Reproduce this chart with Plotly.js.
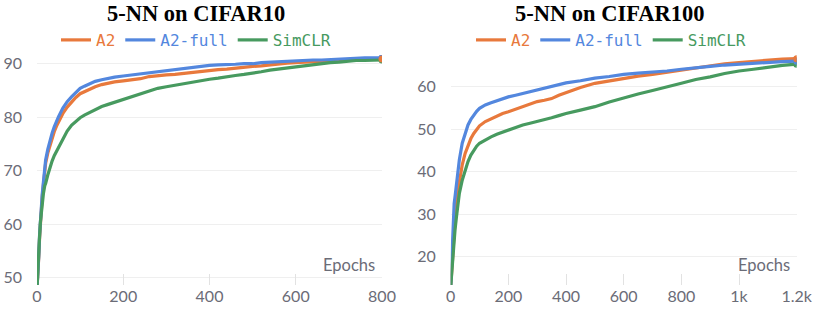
<!DOCTYPE html>
<html>
<head>
<meta charset="utf-8">
<script src="https://cdn.plot.ly/plotly-3.0.1.min.js"></script>
<style>html,body{margin:0;padding:0;background:#fff;}#chart{width:814px;height:310px;}</style>
</head>
<body>
<div id="chart"></div>
<script>
// ---- CIFAR10 (5-NN accuracy vs epoch) ----
const c10Epochs = [0,2,4,6,8,10,12,15,18,20,25,30,35,40,45,50,60,70,80,90,100,110,120,135,150,165,180,200,220,240,260,280,300,320,340,360,380,400,420,440,460,480,500,520,540,560,580,600,620,640,660,680,700,720,740,760,780,800];
const c10A2full = [48.0,50.5,54.0,58.0,61.0,63.5,65.5,68.0,70.5,72.0,74.0,75.7,77.0,78.2,79.2,80.1,81.7,82.9,83.8,84.7,85.4,85.8,86.2,86.7,87.0,87.3,87.5,87.7,87.9,88.1,88.4,88.6,88.8,88.9,89.1,89.3,89.5,89.7,89.8,89.8,89.9,90.0,90.0,90.2,90.3,90.4,90.4,90.5,90.6,90.7,90.7,90.8,90.9,91.0,91.0,91.1,91.1,91.1];
const c10A2 = [48.0,50.3,53.8,57.5,60.5,63.0,65.0,67.5,69.8,71.4,73.3,74.8,76.1,77.3,78.3,79.2,80.7,81.9,82.9,83.7,84.4,84.8,85.2,85.7,86.1,86.4,86.6,86.8,87.0,87.2,87.6,87.8,87.9,88.0,88.2,88.4,88.6,88.7,88.9,89.0,89.2,89.3,89.5,89.6,89.8,90.0,90.1,90.2,90.3,90.4,90.5,90.6,90.7,90.8,90.8,90.9,90.9,90.9];
const c10SimCLR = [48.0,50.5,54.0,57.8,60.5,62.5,64.2,65.8,67.2,67.6,69.2,70.6,71.8,72.8,73.6,74.3,75.9,77.4,78.5,79.3,79.9,80.4,80.8,81.4,82.0,82.4,82.8,83.4,83.9,84.4,85.0,85.4,85.7,86.0,86.3,86.6,86.9,87.1,87.3,87.6,87.8,88.0,88.2,88.5,88.8,89.0,89.2,89.4,89.6,89.9,90.1,90.2,90.3,90.5,90.6,90.6,90.7,90.7];

// ---- CIFAR100 ----
const c100Epochs = [0,2,4,6,8,10,12,15,20,25,30,40,50,60,70,80,90,100,120,140,160,180,200,225,250,275,300,325,350,375,400,450,500,550,600,650,700,750,800,850,900,950,1000,1050,1100,1150,1200];
const c100A2full = [13.0,17.0,21.5,25.5,28.5,31.0,32.5,34.1,37.3,40.2,42.8,46.7,49.0,51.0,52.3,53.3,54.2,54.9,55.7,56.2,56.7,57.2,57.6,58.0,58.4,58.8,59.2,59.6,60.0,60.5,60.9,61.4,62.0,62.4,62.9,63.2,63.4,63.7,64.1,64.5,64.8,65.1,65.3,65.6,65.8,65.9,66.0];
const c100A2 = [13.0,14.5,16.5,18.5,21.0,23.5,25.5,28.6,32.6,35.5,38.0,41.6,44.3,46.3,47.8,49.0,50.0,50.8,51.8,52.5,53.2,53.7,54.1,54.7,55.3,55.9,56.5,56.8,57.2,58.0,58.6,59.8,60.8,61.4,61.9,62.5,62.9,63.4,63.8,64.3,64.9,65.4,65.7,66.0,66.3,66.5,66.6];
const c100SimCLR = [13.0,15.0,17.5,20.0,22.0,23.5,24.8,26.3,29.4,32.3,34.9,38.0,40.4,42.4,43.9,45.1,46.0,46.7,47.5,48.2,48.8,49.3,49.8,50.4,51.0,51.4,51.8,52.3,52.7,53.2,53.7,54.5,55.3,56.4,57.4,58.3,59.1,59.9,60.8,61.7,62.3,63.1,63.7,64.1,64.6,65.0,65.3];

const c10Ticks = [0,200,400,600,800];
const c10TickText = ["0","200","400","600","800"];
const c100Ticks = [0,200,400,600,800,1000,1200];
const c100TickText = ["0","200","400","600","800","1k","1.2k"];
const c10YTicks = [50,60,70,80,90];
const c100YTicks = [20,30,40,50,60];
const seriesNames = ["A2","A2-full","SimCLR"];
const titles = ["5-NN on CIFAR10","5-NN on CIFAR100"];

const COLORS = {"A2":"#e8793c","A2-full":"#5387de","SimCLR":"#479a5f"};
const TICKFONT = {family:"Lato, 'Noto Sans', sans-serif", size:16, color:"#6b6c77"};

function lineTrace(x, y, name, xa, ya, legend){
  return {x:x, y:y, type:"scatter", mode:"lines", name:'<span style="color:'+COLORS[name]+'">'+name+'</span>',
    line:{color:COLORS[name], width:3.2}, xaxis:xa, yaxis:ya, legend:legend, hoverinfo:"x+y"};
}
function endDot(x, y, name, xa, ya){
  return {x:[x[x.length-1]], y:[y[y.length-1]], type:"scatter", mode:"markers",
    marker:{color:COLORS[name], size:7}, xaxis:xa, yaxis:ya, showlegend:false, hoverinfo:"skip"};
}

const traces = [
  lineTrace(c10Epochs, c10A2, "A2", "x", "y", "legend"),
  lineTrace(c10Epochs, c10A2full, "A2-full", "x", "y", "legend"),
  lineTrace(c10Epochs, c10SimCLR, "SimCLR", "x", "y", "legend"),
  lineTrace(c100Epochs, c100A2, "A2", "x2", "y2", "legend2"),
  lineTrace(c100Epochs, c100A2full, "A2-full", "x2", "y2", "legend2"),
  lineTrace(c100Epochs, c100SimCLR, "SimCLR", "x2", "y2", "legend2"),
  endDot(c10Epochs, c10SimCLR, "SimCLR", "x", "y"),
  endDot(c10Epochs, c10A2full, "A2-full", "x", "y"),
  endDot(c10Epochs, c10A2, "A2", "x", "y"),
  endDot(c100Epochs, c100SimCLR, "SimCLR", "x2", "y2"),
  endDot(c100Epochs, c100A2full, "A2-full", "x2", "y2"),
  endDot(c100Epochs, c100A2, "A2", "x2", "y2")
];

const W = 814, H = 310;
const yDom = [1-285/H, 1-55/H];
function xAxis(dom, rng, tv, tt, anchor){
  return {domain:dom, range:rng, tickvals:tv, ticktext:tt, ticks:"inside", ticklen:11, tickwidth:1, tickcolor:"#e2e2e2",
    showgrid:false, zeroline:false, showline:false, tickfont:TICKFONT, anchor:anchor, fixedrange:true};
}
function yAxis(rng, tv, anchor){
  return {domain:yDom, range:rng, tickvals:tv, showgrid:true, gridcolor:"#efefef", gridwidth:1, ticks:"",
    zeroline:false, showline:false, tickfont:TICKFONT, anchor:anchor, ticklabelstandoff:14, fixedrange:true};
}
const legendBase = {orientation:"h", xanchor:"center", yanchor:"middle", y:1-40/H,
  font:{family:"'DejaVu Sans Mono', 'Liberation Mono', monospace", size:16, color:"#444"}, bgcolor:"rgba(0,0,0,0)", itemclick:false};

const layout = {
  width:W, height:H, margin:{l:0,r:0,t:0,b:0}, paper_bgcolor:"#fff", plot_bgcolor:"#fff",
  showlegend:true,
  xaxis: xAxis([37/W, 382/W], [0,800], c10Ticks, c10TickText, "y"),
  yaxis: yAxis([48.64, 91.63], c10YTicks, "x"),
  xaxis2: xAxis([450.7/W, 796.7/W], [0,1200], c100Ticks, c100TickText, "y2"),
  yaxis2: yAxis([13.34, 67.46], c100YTicks, "x2"),
  legend: Object.assign({}, legendBase, {x:196/W}),
  legend2: Object.assign({}, legendBase, {x:611/W}),
  annotations:[
    {text:"<b>"+titles[0]+"</b>", xref:"paper", yref:"paper", x:196/W, y:1-13/H, xanchor:"center", yanchor:"middle", showarrow:false,
     font:{family:"'Liberation Serif', 'Times New Roman', serif", size:22.5, color:"#000"}},
    {text:"<b>"+titles[1]+"</b>", xref:"paper", yref:"paper", x:610/W, y:1-13/H, xanchor:"center", yanchor:"middle", showarrow:false,
     font:{family:"'Liberation Serif', 'Times New Roman', serif", size:22.5, color:"#000"}},
    {text:"Epochs", xref:"x domain", yref:"paper", x:1, y:1-265/H, xanchor:"right", yanchor:"middle", xshift:-5, showarrow:false,
     font:{family:"Lato, 'Noto Sans', sans-serif", size:16.5, color:"#6b6c77"}},
    {text:"Epochs", xref:"x2 domain", yref:"paper", x:1, y:1-265/H, xanchor:"right", yanchor:"middle", xshift:-5, showarrow:false,
     font:{family:"Lato, 'Noto Sans', sans-serif", size:16.5, color:"#6b6c77"}}
  ]
};

Plotly.newPlot("chart", traces, layout, {displayModeBar:false, staticPlot:true});
</script>
</body>
</html>
